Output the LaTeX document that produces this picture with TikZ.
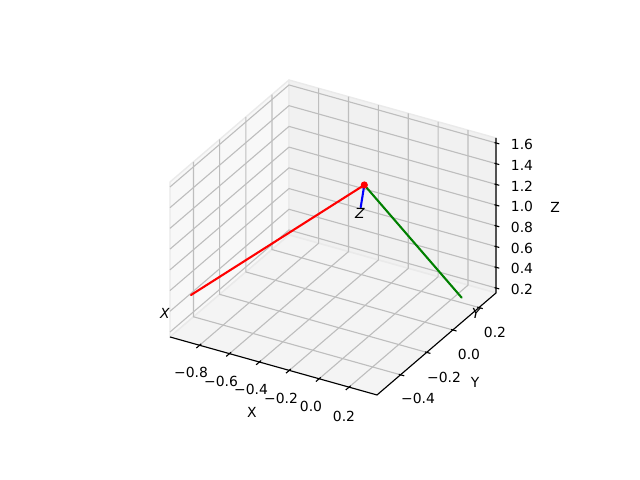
\documentclass[tikz,border=0pt]{standalone}
\usepackage{fontspec}
\setmainfont{DejaVu Sans}
\definecolor{paneX}{HTML}{F8F8F8}
\definecolor{paneY}{HTML}{F1F1F1}
\definecolor{paneZ}{HTML}{F4F4F4}
\definecolor{paneEdge}{HTML}{EAEAEA}
\definecolor{gridc}{HTML}{BEBEBE}
\definecolor{mplgreen}{HTML}{008000}
\tikzset{
  pane/.style={draw=paneEdge, line width=1bp, line join=round},
  gridline/.style={draw=gridc, line width=0.8bp},
  axisline/.style={draw=black, line width=0.8bp},
  tickmark/.style={draw=black, line width=0.8bp},
  datal/.style={line width=1.5bp, line cap=round},
  lbl/.style={inner sep=0pt, font=\fontsize{10bp}{12bp}\selectfont},
  ilbl/.style={inner sep=0pt, font=\fontsize{10bp}{12bp}\selectfont\itshape}
}
\begin{document}
\begin{tikzpicture}[x=0.72bp,y=-0.72bp]
\useasboundingbox (0,0) rectangle (640,480);
\def\xmin{-0.998}\def\xmax{0.387}
\def\ymin{-0.58}\def\ymax{0.33}
\def\zmin{0.152}\def\zmax{1.648}
\begin{scope}[shift={(395.0,329.5)}, x={(107.61bp,-30.15bp)}, y={(94.15bp,80.70bp)}, z={(0bp,74.59bp)}]
  % panes
  \path[pane, fill=paneX] (\xmin,\ymin,\zmin) -- (\xmin,\ymax,\zmin) -- (\xmin,\ymax,\zmax) -- (\xmin,\ymin,\zmax) -- cycle;
  \path[pane, fill=paneY] (\xmin,\ymax,\zmin) -- (\xmax,\ymax,\zmin) -- (\xmax,\ymax,\zmax) -- (\xmin,\ymax,\zmax) -- cycle;
  \path[pane, fill=paneZ] (\xmin,\ymin,\zmin) -- (\xmax,\ymin,\zmin) -- (\xmax,\ymax,\zmin) -- (\xmin,\ymax,\zmin) -- cycle;
  % grid: x ticks
  \foreach \t in {-0.8,-0.6,-0.4,-0.2,0.0,0.2}{
    \draw[gridline] (\t,\ymin,\zmin) -- (\t,\ymax,\zmin) -- (\t,\ymax,\zmax);
  }
  % grid: y ticks
  \foreach \t in {-0.4,-0.2,0.0,0.2}{
    \draw[gridline] (\xmax,\t,\zmin) -- (\xmin,\t,\zmin) -- (\xmin,\t,\zmax);
  }
  % grid: z ticks
  \foreach \t in {0.2,0.4,0.6,0.8,1.0,1.2,1.4,1.6}{
    \draw[gridline] (\xmin,\ymin,\t) -- (\xmin,\ymax,\t) -- (\xmax,\ymax,\t);
  }
  % axis lines
  \draw[axisline] (\xmin,\ymin,\zmin) -- (\xmax,\ymin,\zmin) -- (\xmax,\ymax,\zmin) -- (\xmax,\ymax,\zmax);
  % ticks
  \foreach \t in {-0.8,-0.6,-0.4,-0.2,0.0,0.2}{
    \draw[tickmark] (\t,\ymin+0.012,\zmin) -- (\t,\ymin-0.025,\zmin);
  }
  \foreach \t in {-0.4,-0.2,0.0,0.2}{
    \draw[tickmark] (\xmax-0.012,\t,\zmin) -- (\xmax+0.025,\t,\zmin);
  }
  \foreach \t in {0.2,0.4,0.6,0.8,1.0,1.2,1.4,1.6}{
    \draw[tickmark] (\xmax-0.01,\ymax,\t) -- (\xmax+0.022,\ymax,\t);
  }
\end{scope}
% data
\coordinate (o) at (364.3,185);
\coordinate (xe) at (191,295);
\coordinate (ye) at (461.7,297.7);
\coordinate (ze) at (360.7,207.3);
\draw[datal, red] (o) -- (xe);
\draw[datal, mplgreen] (o) -- (ye);
\draw[datal, blue] (o) -- (ze);
\fill[red] (o) circle (3.6);
\node[ilbl] (lx) at (165,313) {X};
\node[ilbl] (ly) at (476,313) {Y};
\node[ilbl] (lz) at (360,213) {Z};
% tick labels
\node[lbl] (tx1) at (191,372) {−0.8};
\node[lbl] (tx2) at (221,381) {−0.6};
\node[lbl] (tx3) at (251,389) {−0.4};
\node[lbl] (tx4) at (281,398) {−0.2};
\node[lbl] (tx5) at (311,406) {0.0};
\node[lbl] (tx6) at (344,416) {0.2};
\node[lbl] (ty1) at (418,398) {−0.4};
\node[lbl] (ty2) at (444,377) {−0.2};
\node[lbl] (ty3) at (469,354) {0.0};
\node[lbl] (ty4) at (495,332) {0.2};
\node[lbl] (tz1) at (522,289.5) {0.2};
\node[lbl] (tz2) at (522,268.8) {0.4};
\node[lbl] (tz3) at (522,248.1) {0.6};
\node[lbl] (tz4) at (522,227.4) {0.8};
\node[lbl] (tz5) at (522,206.7) {1.0};
\node[lbl] (tz6) at (522,186.0) {1.2};
\node[lbl] (tz7) at (522,165.3) {1.4};
\node[lbl] (tz8) at (522,144.6) {1.6};
\node[lbl] (axx) at (252,412) {X};
\node[lbl] (axy) at (475,382) {Y};
\node[lbl] (axz) at (555,207) {Z};
\end{tikzpicture}
\end{document}
